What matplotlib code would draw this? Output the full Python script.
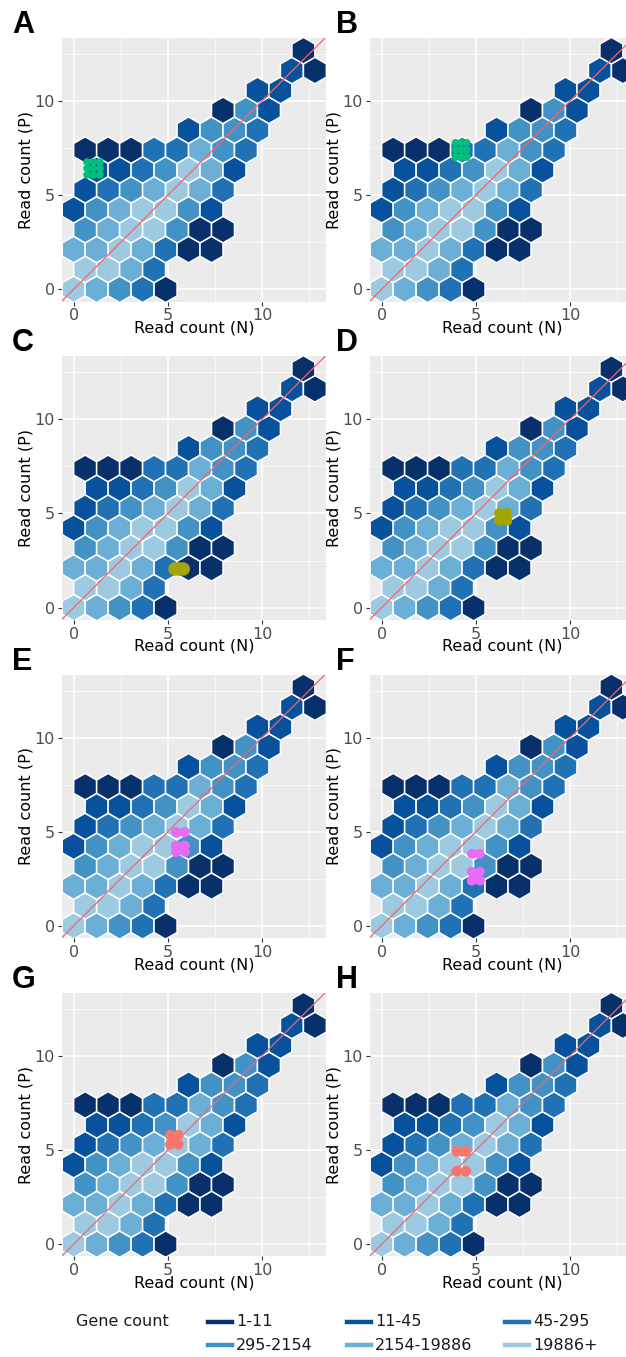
import numpy as np
import matplotlib.pyplot as plt
from matplotlib.patches import RegularPolygon
from matplotlib.collections import PatchCollection
from matplotlib.lines import Line2D

W, H = 626, 1357

# hexbin grid (log read counts), pointy-top hexagons
HEX_W = 1.22
HEX_H = HEX_W * np.sqrt(3) / 2

# first bin column of each row and the gene-count class of each bin (0 = 1-11 genes)
ROW_FIRST = [0, 0, 0, 0, 0, 0, 1, 0, 5, 6, 8, 9, 10]
ROW_CLASSES = [
    [5, 4, 3, 2, 0],
    [5, 5, 4, 2],
    [4, 4, 5, 4, 2, 0, 0],
    [3, 4, 5, 5, 3, 0, 0],
    [1, 3, 4, 5, 5, 3, 1],
    [1, 2, 3, 4, 5, 4, 2],
    [1, 1, 2, 3, 5, 4, 1],
    [0, 0, 0, 2, 2, 4, 3, 2],
    [1, 3, 3, 2],
    [0, 3, 1],
    [1, 1],
    [1, 0],
    [0],
]

BLUES = ["#08306B", "#08519C", "#2171B5", "#4292C6", "#6BAED6", "#9ECAE1"]
LEGEND_LABELS = ["1-11", "11-45", "45-295", "295-2154", "2154-19886", "19886+"]

# highlighted genes per panel
A_X = [0.71, 1.05, 1.39, 0.71, 1.05, 1.39, 0.71, 1.05, 1.39]
A_Y = [6.08, 6.08, 6.08, 6.42, 6.42, 6.42, 6.76, 6.76, 6.76]
B_X = [3.92, 4.22, 4.52, 3.92, 4.22, 4.52, 3.92, 4.22, 4.52]
B_Y = [7.02, 7.02, 7.02, 7.4, 7.4, 7.4, 7.78, 7.78, 7.78]
C_X = [5.38, 5.6, 5.82]
C_Y = [2.05, 2.05, 2.05]
D_X = [6.24, 6.66, 6.24, 6.66, 6.45]
D_Y = [4.62, 4.62, 5.02, 5.02, 4.82]
E_X = [5.44, 5.9, 5.44, 5.9, 5.44, 5.9, 5.67]
E_Y = [4.98, 4.98, 3.94, 3.94, 4.26, 4.26, 4.1]
F_X = [4.8, 5.2, 4.78, 5.22, 4.78, 5.22, 5.0]
F_Y = [3.83, 3.83, 2.4, 2.4, 2.88, 2.88, 2.64]
G_X = [5.12, 5.56, 5.12, 5.56, 5.34]
G_Y = [5.3, 5.3, 5.8, 5.8, 5.55]
H_X = [3.99, 4.47, 3.99, 4.47]
H_Y = [4.93, 4.93, 3.88, 3.88]

GREEN, OLIVE, VIOLET, SALMON = "#00BF7D", "#A3A500", "#E76BF3", "#F8766D"

panels = [
    ("A", A_X, A_Y, GREEN, 30),
    ("B", B_X, B_Y, GREEN, 30),
    ("C", C_X, C_Y, OLIVE, 95),
    ("D", D_X, D_Y, OLIVE, 55),
    ("E", E_X, E_Y, VIOLET, 55),
    ("F", F_X, F_Y, VIOLET, 50),
    ("G", G_X, G_Y, SALMON, 55),
    ("H", H_X, H_Y, SALMON, 60),
]

plt.rcParams['font.family'] = ['DejaVu Sans']

fig = plt.figure(figsize=(W / 100, H / 100), dpi=100)


def px_axes(left, top, right, bottom):
    return fig.add_axes([left / W, 1 - bottom / H, (right - left) / W, (bottom - top) / H])


def draw_hex(ax, hx, hy, colour, size):
    ax.set_facecolor("#EBEBEB")
    hexes = []
    fills = []
    for r, (first, classes) in enumerate(zip(ROW_FIRST, ROW_CLASSES)):
        for k, c in enumerate(classes):
            x = (first + k) * HEX_W + (r % 2) * HEX_W / 2
            y = r * HEX_H
            hexes.append(RegularPolygon((x, y), numVertices=6, radius=HEX_W / np.sqrt(3), orientation=0))
            fills.append(BLUES[c])
    pc = PatchCollection(hexes, facecolors=fills, edgecolors="white", linewidths=1.1, zorder=2)
    ax.add_collection(pc)
    ax.axline((0, 0), (1, 1), color="#EE6670", lw=0.9, zorder=3)
    ax.scatter(hx, hy, s=size, c=colour, edgecolors="none", zorder=4)

    ax.set_xlim(-0.62, 13.4)
    ax.set_ylim(-0.65, 13.35)
    ax.set_xticks([0, 5, 10])
    ax.set_yticks([0, 5, 10])
    ax.set_xticks([2.5, 7.5, 12.5], minor=True)
    ax.set_yticks([2.5, 7.5, 12.5], minor=True)
    ax.grid(which="major", color="white", lw=1.1, zorder=0)
    ax.grid(which="minor", color="white", lw=0.5, zorder=0)
    ax.set_axisbelow(True)
    for s in ax.spines.values():
        s.set_visible(False)
    ax.tick_params(which="major", length=3, width=0.8, color="#333333",
                   labelcolor="#4D4D4D", labelsize=11.5, pad=2)
    ax.tick_params(which="minor", length=0)
    ax.set_xlabel("Read count (N)", fontsize=11.5, labelpad=-2)
    ax.set_ylabel("Read count (P)", fontsize=11.5, labelpad=1)


for i, (letter, hx, hy, colour, size) in enumerate(panels):
    row, col = divmod(i, 2)
    top = 38 + row * 318.3
    left = 62 if col == 0 else 370
    ax = px_axes(left, top, left + 264, top + 263.5)
    draw_hex(ax, hx, hy, colour, size)
    fig.text((12 if col == 0 else 336) / W, 1 - (top - 5) / H, letter,
             fontsize=22, fontweight="bold", family="Liberation Sans", va="baseline")

# legend for gene count classes
fig.text(76 / W, 1 - 1322 / H, "Gene count", fontsize=11.5, va="center", color="#1A1A1A")
key_x = [208, 347, 505]
key_y = [1322, 1345]
for j, (c, lab) in enumerate(zip(BLUES, LEGEND_LABELS)):
    r, k = divmod(j, 3)
    x0 = key_x[k]
    y0 = 1 - key_y[r] / H
    fig.add_artist(Line2D([x0 / W, (x0 + 24) / W], [y0, y0], color=c, lw=3.2,
                          transform=fig.transFigure))
    fig.text((x0 + 28) / W, y0, lab, fontsize=11.5, va="center", color="#1A1A1A")

fig.savefig("out.png", dpi=100)
